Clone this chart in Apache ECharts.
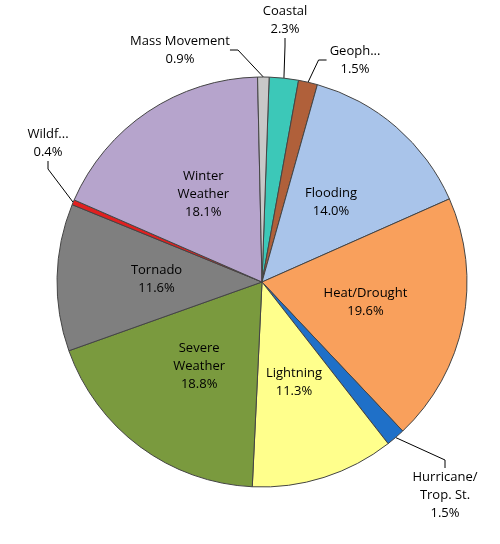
<!DOCTYPE html>
<html><head><meta charset="utf-8">
<script src="https://cdn.jsdelivr.net/npm/echarts@6/dist/echarts.min.js"></script>
<style>html,body{margin:0;background:#fff}#c{width:500px;height:544px}</style>
</head><body><div id="c"></div>
<script>
// clockwise from 12 o'clock
const categories = ['Coastal', 'Geophysical', 'Flooding', 'Heat/Drought', 'Hurricane/\nTrop. St.', 'Lightning',
  'Severe\nWeather', 'Tornado', 'Wildfire', 'Winter\nWeather', 'Mass Movement'];
const values = [2.3, 1.5, 14.0, 19.6, 1.5, 11.3, 18.8, 11.6, 0.4, 18.1, 0.9];
const colors = ['#3cc8b8', '#b0603a', '#a9c4ea', '#f9a05c', '#1f70c8', '#ffff8c',
  '#7a9a3e', '#7f7f7f', '#e02020', '#b6a4cc', '#c8c8c8'];

// outside label spots for the thin slices
const outside = {
  'Coastal': [285, 20, 'center'],
  'Geophysical': [355, 60, 'center'],
  'Hurricane/\nTrop. St.': [445, 495, 'center'],
  'Wildfire': [48, 143, 'center'],
  'Mass Movement': [180, 50, 'center']
};

const chart = echarts.init(document.getElementById('c'));
chart.setOption({
  animation: false,
  series: [{
    type: 'pie',
    center: [262, 282],
    radius: 205,
    startAngle: 88,
    clockwise: true,
    itemStyle: { borderColor: '#444', borderWidth: 1 },
    label: {
      position: 'inside',
      formatter: p => p.name + '\n' + p.value.toFixed(1) + '%',
      fontFamily: 'Open Sans', fontSize: 13, color: '#000', lineHeight: 18
    },
    labelLine: { show: false },
    labelLayout: p => {
      const o = outside[p.text.split('\n').slice(0, -1).join('\n')];
      if (!o) return {};
      return { x: o[0], y: o[1], align: o[2], verticalAlign: 'middle' };
    },
    data: categories.map((c, i) => {
      const d = { name: c, value: values[i], itemStyle: { color: colors[i] } };
      if (outside[c]) {
        d.label = { position: 'outside' };
        d.labelLine = { show: true, length: 8, length2: 8, lineStyle: { color: '#000', width: 1 } };
      }
      return d;
    })
  }]
});
</script></body></html>
